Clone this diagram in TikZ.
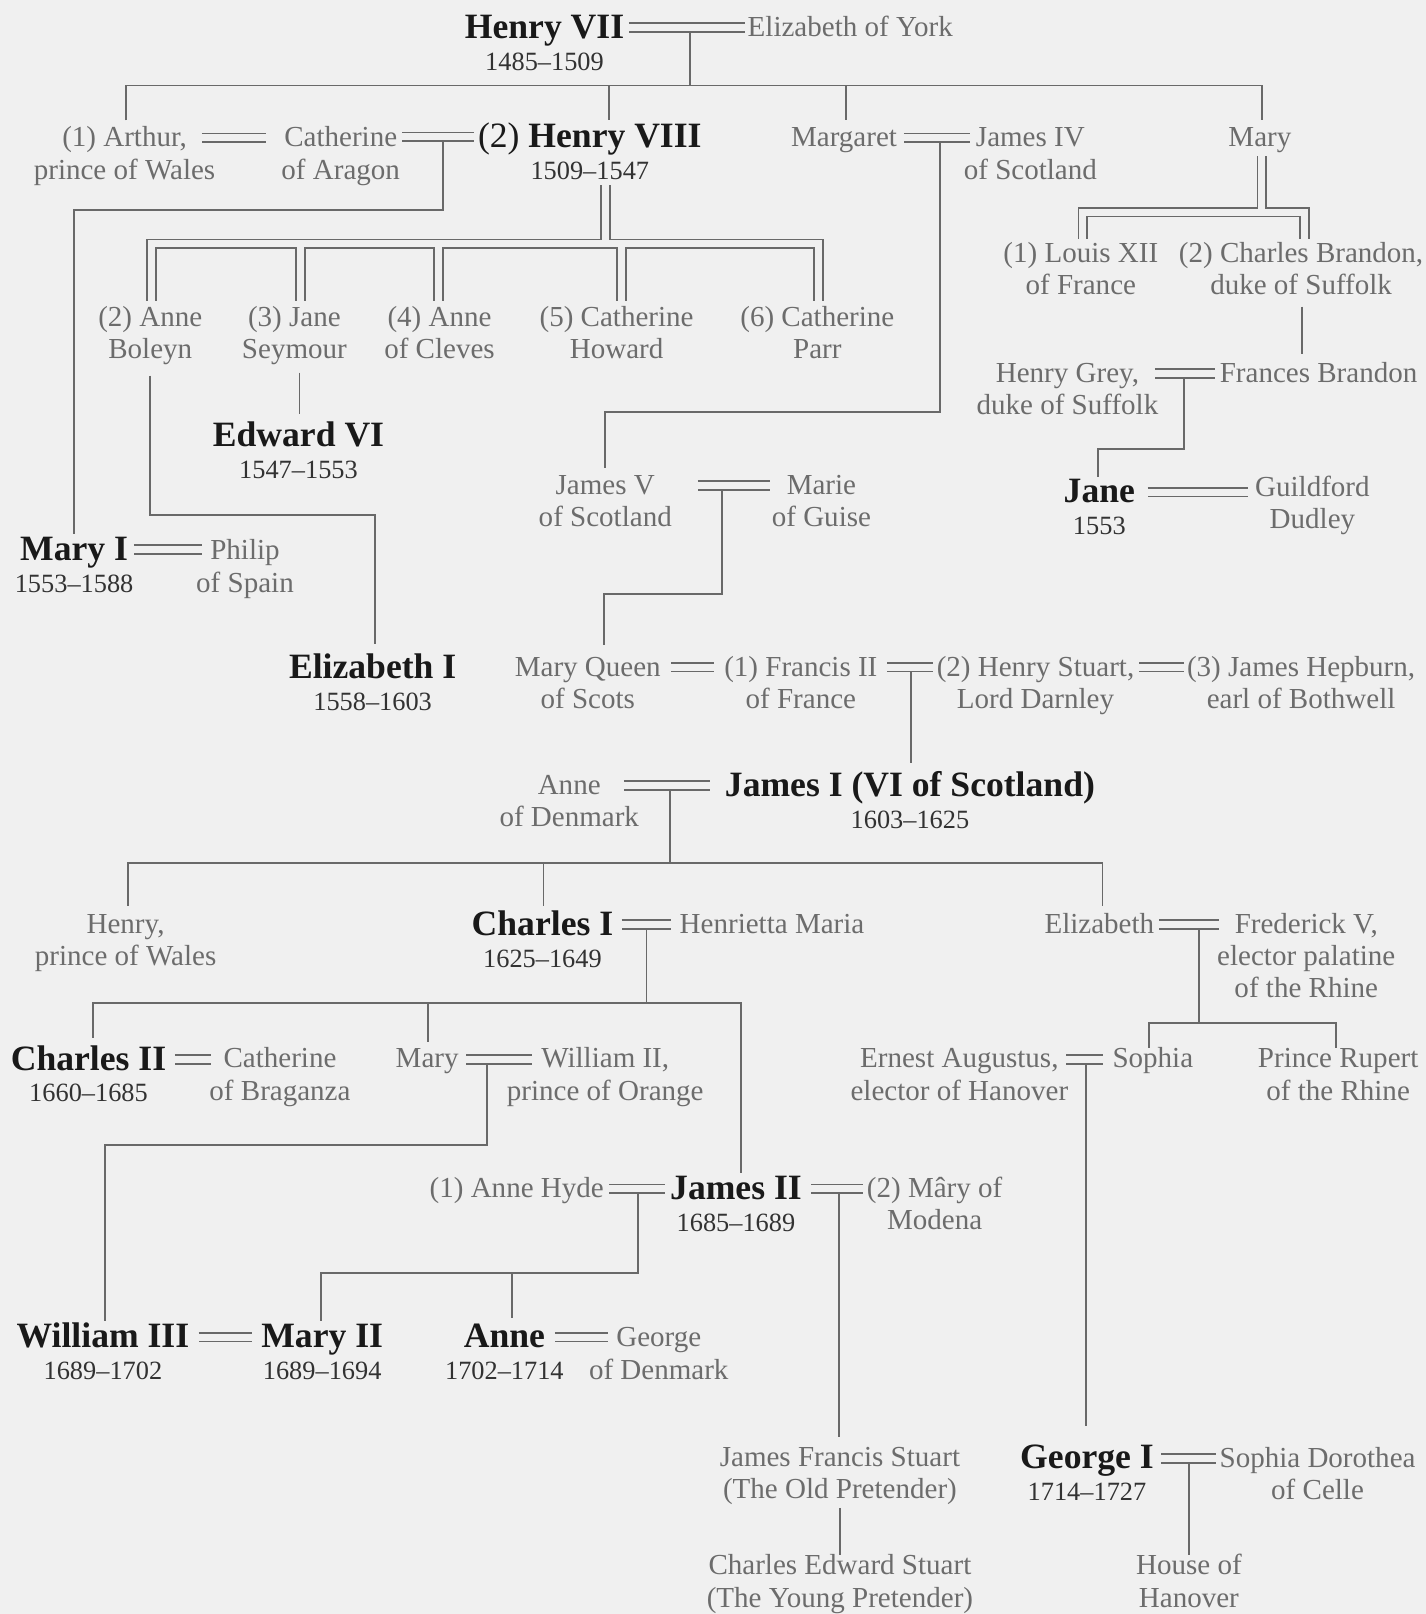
\documentclass[tikz,border=0pt]{standalone}
\usepackage{fontspec}
\setmainfont{Liberation Serif}
\definecolor{bgc}{RGB}{240,240,240}
\definecolor{namec}{RGB}{108,108,108}
\definecolor{royc}{RGB}{25,25,25}
\definecolor{yearc}{RGB}{50,50,50}
\definecolor{linec}{RGB}{105,105,105}
\newcommand\TS{\rule{0pt}{10pt}}
\newcommand\BS{\rule[-3.5pt]{0pt}{3.5pt}}
\newcommand\RT{\rule{0pt}{12pt}}
\newcommand\RB{\rule[-4pt]{0pt}{4pt}}
\newcommand\royn[1]{{\color{royc}\fontsize{17.3}{18}\selectfont\bfseries\RT #1}}
\newcommand\royy[1]{#1\RB}
\tikzset{
  pn/.style={align=center, inner sep=0pt, text=namec, font=\fontsize{14.1}{15.75}\selectfont},
  rn/.style={align=center, inner sep=0pt, text=yearc, font=\fontsize{12.8}{15.5}\selectfont},
  ln/.style={draw=linec, line width=0.9pt},
  marr/.style={draw=linec, line width=0.9pt, double=bgc, double distance=3.4pt},
  dbl/.style={draw=linec, line width=0.9pt, double=bgc, double distance=3.4pt},
}
\begin{document}
\begin{tikzpicture}[x=0.5pt, y=-0.5pt, line join=miter]
\fill[bgc] (0,0) rectangle (1385,1568);
\useasboundingbox (0,0) rectangle (1385,1568);

% ---------- Row 1
\node[rn] (hvii) at (529,45) {\royn{Henry VII}\\\royy{1485–1509}};
\node[pn] (eoy) at (826,29) {\TS Elizabeth of York\BS};
\draw[marr] (611,27) -- (724,27);
\draw[ln] (670,31) -- (670,83);
\draw[ln] (122,117) -- (122,83) -- (1226,83) -- (1226,117);
\draw[ln] (592,83) -- (592,117);
\draw[ln] (822,83) -- (822,117);

% ---------- Row 2
\node[pn] (arthur) at (121,152) {\TS(1) Arthur,\\prince of Wales\BS};
\node[pn] (catarag) at (331,152) {\TS Catherine\\of Aragon\BS};
\node[rn] (hviii) at (573,151) {{\color{royc}\fontsize{17.3}{18}\selectfont\RT(2) \bfseries Henry VIII}\\\royy{1509–1547}};
\node[pn] (margaret) at (820,136) {\TS Margaret\BS};
\node[pn] (jamesiv) at (1001,152) {\TS James IV\\of Scotland\BS};
\node[pn] (maryt) at (1224,136) {\TS Mary\BS};
\draw[marr] (196,134) -- (258,134);
\draw[marr] (391,133) -- (460,133);
\draw[ln] (430,137) -- (430,204) -- (72,204) -- (72,519);
\draw[marr] (878,134) -- (942,134);
\draw[ln] (913,138) -- (913,400) -- (588,400) -- (588,455);
\draw[dbl] (1226,152) -- (1226,206) (1052,232) -- (1052,206) -- (1267,206) -- (1267,232);

% ---------- Mary's marriages
\node[pn] (louis) at (1050,264) {\TS(1) Louis XII\\of France\BS};
\node[pn] (brandon) at (1264,264) {\TS(2) Charles Brandon,\\duke of Suffolk\BS};
\draw[ln] (1265,298) -- (1265,344);
\node[pn] (grey) at (1037,380.5) {\TS Henry Grey,\\duke of Suffolk\BS};
\node[pn] (frances) at (1281,365) {\TS Frances Brandon\BS};
\draw[marr] (1122,363) -- (1180,363);
\draw[ln] (1150,367) -- (1150,436) -- (1067,436) -- (1067,463);
\node[rn] (jane) at (1068,496) {\royn{Jane}\\\royy{1553}};
\node[pn] (dudley) at (1275,491.5) {\TS Guildford\\Dudley\BS};
\draw[marr] (1115,478) -- (1212,478);

% ---------- Henry VIII's wives
\node[pn] (boleyn) at (146,326.5) {\TS(2) Anne\\Boleyn\BS};
\node[pn] (seymour) at (286,326.5) {\TS(3) Jane\\Seymour\BS};
\node[pn] (cleves) at (427,326.5) {\TS(4) Anne\\of Cleves\BS};
\node[pn] (howard) at (599,326.5) {\TS(5) Catherine\\Howard\BS};
\node[pn] (parr) at (794,326.5) {\TS(6) Catherine\\Parr\BS};
\draw[dbl] (588,180) -- (588,237) (147,292) -- (147,237) -- (795,237) -- (795,292)
  (292,237) -- (292,292) (426,237) -- (426,292) (604,237) -- (604,292);
\draw[ln] (146,365) -- (146,500) -- (364,500) -- (364,626);
\draw[ln] (291,362) -- (291,402);

\node[rn] (edward) at (290,441) {\royn{Edward VI}\\\royy{1547–1553}};
\node[rn] (maryi) at (72,552) {\royn{Mary I}\\\royy{1553–1588}};
\draw[marr] (130,534) -- (196,534);
\node[pn] (philip) at (238,553) {\TS Philip\\of Spain\BS};
\node[rn] (elizi) at (362,667) {\royn{Elizabeth I}\\\royy{1558–1603}};

% ---------- Scotland
\node[pn] (jamesv) at (588,489.5) {\TS James V\\of Scotland\BS};
\draw[marr] (678,472) -- (748,472);
\draw[ln] (701,476) -- (701,577) -- (587,577) -- (587,627);
\node[pn] (guise) at (798,489.5) {\TS Marie\\of Guise\BS};

\node[pn] (mqs) at (571,666) {\TS Mary Queen\\of Scots\BS};
\draw[marr] (652,648) -- (694,648);
\node[pn] (francis) at (778,666) {\TS(1) Francis II\\of France\BS};
\draw[marr] (862,648) -- (906,648);
\draw[ln] (885,652) -- (885,741);
\node[pn] (darnley) at (1006,666) {\TS(2) Henry Stuart,\\Lord Darnley\BS};
\draw[marr] (1107,648) -- (1150,648);
\node[pn] (bothwell) at (1264,666) {\TS(3) James Hepburn,\\earl of Bothwell\BS};

% ---------- James I
\node[pn] (annedk) at (553,781) {\TS Anne\\of Denmark\BS};
\draw[marr] (606,763) -- (690,763);
\draw[ln] (651,767) -- (651,838);
\node[rn] (jamesi) at (884,781) {\royn{James I (VI of Scotland)}\\\royy{1603–1625}};
\draw[ln] (124,880) -- (124,838) -- (1071,838) -- (1071,880);
\draw[ln] (528,838) -- (528,880);

\node[pn] (henrypw) at (122,916) {\TS Henry,\\prince of Wales\BS};
\node[rn] (charlesi) at (527,916) {\royn{Charles I}\\\royy{1625–1649}};
\draw[marr] (604,898) -- (652,898);
\draw[ln] (628,902) -- (628,974);
\node[pn] (henrietta) at (750,900) {\TS Henrietta Maria\BS};
\node[pn] (elizb) at (1068,900) {\TS Elizabeth\BS};
\draw[marr] (1126,898) -- (1184,898);
\draw[ln] (1165,902) -- (1165,994);
\node[pn] (frederick) at (1269,931.5) {\TS Frederick V,\\elector palatine\\of the Rhine\BS};

% ---------- Charles I's children
\draw[ln] (90,1008) -- (90,974) -- (720,974) -- (720,1140);
\draw[ln] (416,974) -- (416,1012);
\draw[ln] (1116,1018) -- (1116,994) -- (1298,994) -- (1298,1018);

\node[rn] (charlesii) at (86,1047) {\royn{Charles II}\\\royy{1660–1685}};
\draw[marr] (170,1029) -- (205,1029);
\node[pn] (braganza) at (272,1046.5) {\TS Catherine\\of Braganza\BS};
\node[pn] (marypo) at (415,1031) {\TS Mary\BS};
\draw[marr] (453,1029) -- (517,1029);
\draw[ln] (473,1033) -- (473,1112) -- (102,1112) -- (102,1283);
\node[pn] (williamii) at (588,1046.5) {\TS William II,\\prince of Orange\BS};
\node[pn] (ernest) at (932,1046.5) {\TS Ernest Augustus,\\elector of Hanover\BS};
\draw[marr] (1036,1029) -- (1072,1029);
\draw[ln] (1055,1033) -- (1055,1385);
\node[pn] (sophia) at (1120,1031) {\TS Sophia\BS};
\node[pn] (rupert) at (1300,1046.5) {\TS Prince Rupert\\of the Rhine\BS};

% ---------- James II
\node[pn] (hyde) at (502,1157) {\TS(1) Anne Hyde\BS};
\draw[marr] (592,1155) -- (646,1155);
\draw[ln] (620,1159) -- (620,1237) -- (312,1237) -- (312,1283);
\draw[ln] (497,1237) -- (497,1280);
\node[rn] (jamesii) at (715,1173) {\royn{James II}\\\royy{1685–1689}};
\draw[marr] (788,1155) -- (838,1155);
\draw[ln] (815,1159) -- (815,1396);
\node[pn] (modena) at (908,1172.5) {\TS(2) Mâry of\\Modena\BS};

\node[rn] (williamiii) at (100,1317) {\royn{William III}\\\royy{1689–1702}};
\draw[marr] (193,1299) -- (245,1299);
\node[rn] (maryii) at (313,1317) {\royn{Mary II}\\\royy{1689–1694}};
\node[rn] (anne) at (490,1317) {\royn{Anne}\\\royy{1702–1714}};
\draw[marr] (539,1299) -- (591,1299);
\node[pn] (georgedk) at (640,1317.5) {\TS George\\of Denmark\BS};

% ---------- Bottom
\node[pn] (jfs) at (816,1433.5) {\TS James Francis Stuart\\(The Old Pretender)\BS};
\draw[ln] (816,1465) -- (816,1511);
\node[pn] (ces) at (816,1539) {\TS Charles Edward Stuart\\(The Young Pretender)\BS};
\node[rn] (georgei) at (1056,1434) {\royn{George I}\\\royy{1714–1727}};
\draw[marr] (1128,1417) -- (1181,1417);
\draw[ln] (1155,1421) -- (1155,1511);
\node[pn] (celle) at (1280,1434.5) {\TS Sophia Dorothea\\of Celle\BS};
\node[pn] (hanover) at (1155,1539) {\TS House of\\Hanover\BS};
\end{tikzpicture}
\end{document}
